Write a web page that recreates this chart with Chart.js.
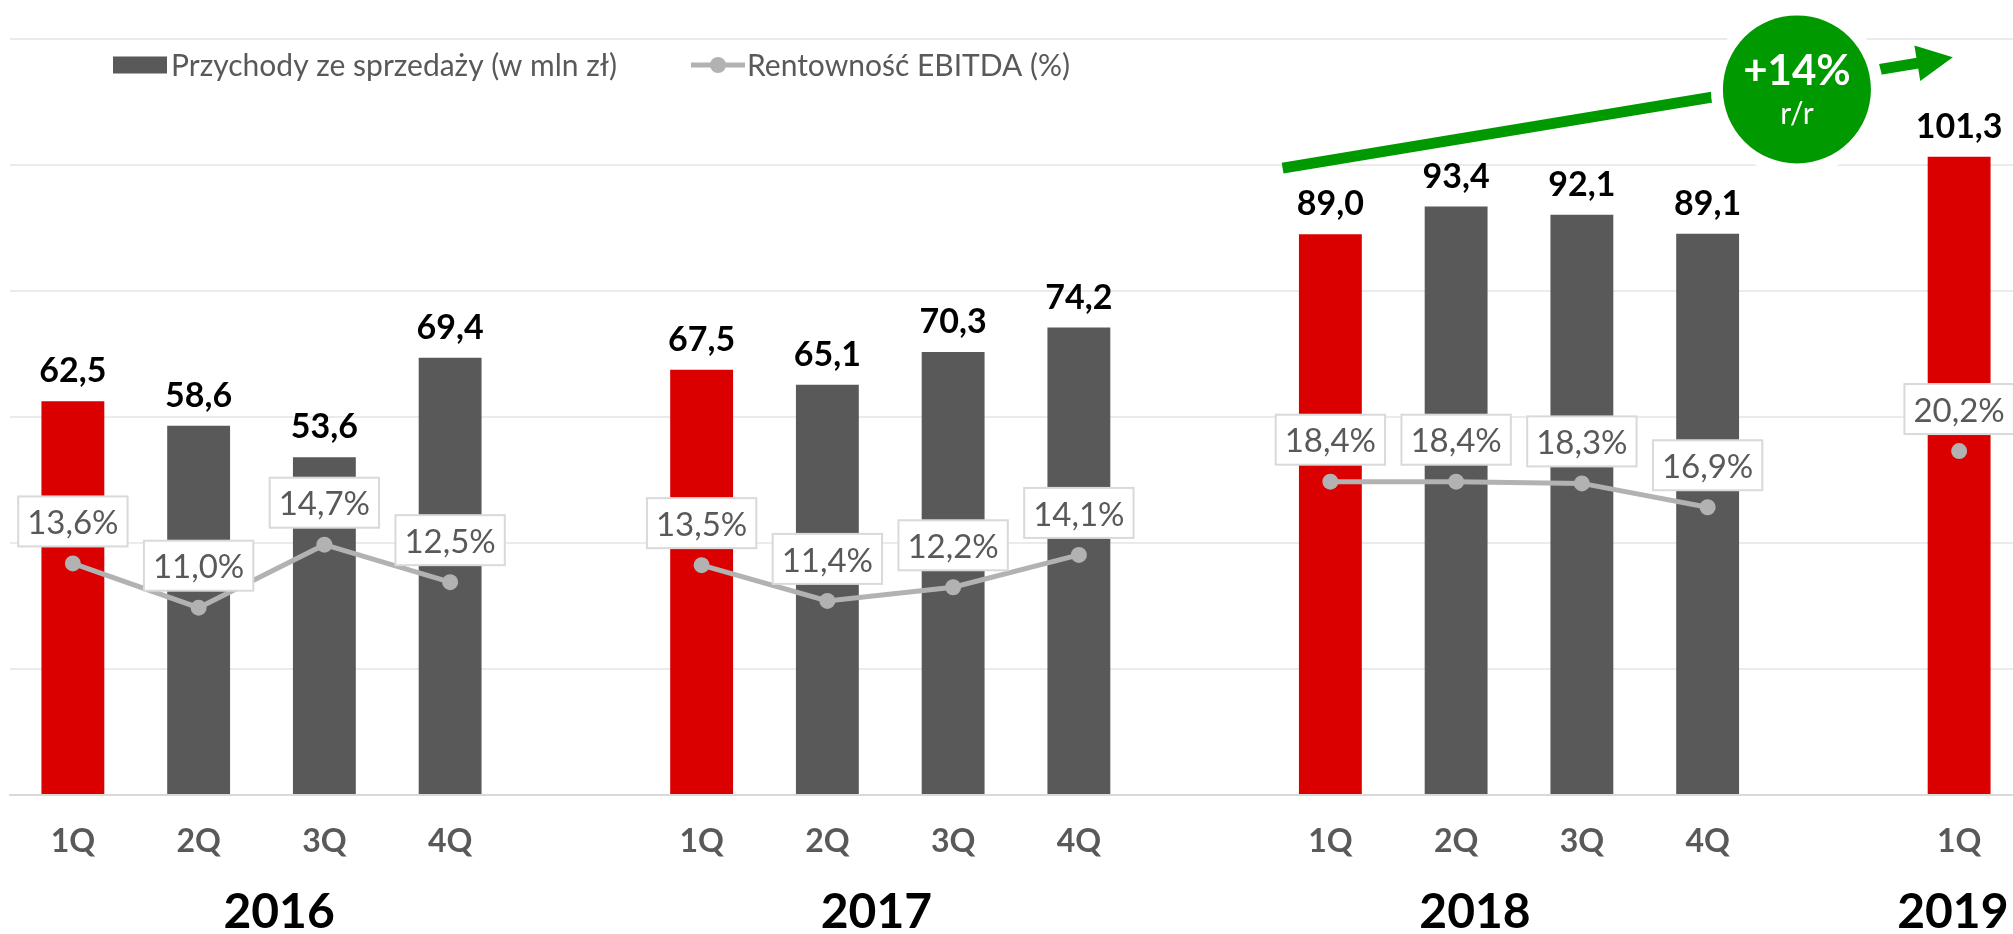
<!DOCTYPE html>
<html>
<head>
<meta charset="utf-8">
<script src="https://cdn.jsdelivr.net/npm/chart.js@4.4.1/dist/chart.umd.min.js"></script>
<style>
  html, body { margin: 0; padding: 0; background: #fff; overflow: hidden; }
  #wrap { width: 2030px; height: 934px; position: relative; }
</style>
</head>
<body>
<div id="wrap"><canvas id="revenueChart"></canvas></div>
<script>
// data
const quarters = ['1Q', '2Q', '3Q', '4Q', '', '1Q', '2Q', '3Q', '4Q', '', '1Q', '2Q', '3Q', '4Q', '', '1Q'];
const years = ['2016', '2017', '2018', '2019'];
const revenue = [62.5, 58.6, 53.6, 69.4, null, 67.5, 65.1, 70.3, 74.2, null, 89.0, 93.4, 92.1, 89.1, null, 101.3];
const ebitdaMargin = [13.6, 11.0, 14.7, 12.5, null, 13.5, 11.4, 12.2, 14.1, null, 18.4, 18.4, 18.3, 16.9, null, 20.2];

const RED = '#da0000';
const DARK = '#595959';
const LINE_GREY = '#b2b2b2';
const GREEN = '#009900';
const FONT = 'Lato';

const fmt = v => v.toFixed(1).replace('.', ',');

// bar values on top, margin values in boxes above the points
const valueLabels = {
  id: 'valueLabels',
  afterDatasetsDraw(chart) {
    const {ctx} = chart;
    ctx.save();
    ctx.textAlign = 'center';

    ctx.font = `bold 34px ${FONT}`;
    ctx.fillStyle = '#000';
    ctx.textBaseline = 'alphabetic';
    chart.getDatasetMeta(0).data.forEach((bar, i) => {
      if (revenue[i] == null) return;
      ctx.fillText(fmt(revenue[i]), bar.x, bar.y - 19);
    });

    ctx.font = `33px ${FONT}`;
    ctx.textBaseline = 'middle';
    chart.getDatasetMeta(1).data.forEach((pt, i) => {
      if (ebitdaMargin[i] == null) return;
      const txt = fmt(ebitdaMargin[i]) + '%';
      const w = ctx.measureText(txt).width + 18;
      const h = 50;
      const bx = pt.x - w / 2;
      const by = pt.y - 17 - h;
      ctx.fillStyle = '#fff';
      ctx.fillRect(bx, by, w, h);
      ctx.strokeStyle = '#d9d9d9';
      ctx.lineWidth = 2;
      ctx.strokeRect(bx, by, w, h);
      ctx.fillStyle = DARK;
      ctx.fillText(txt, pt.x, by + h / 2 + 2);
    });
    ctx.restore();
  }
};

// year names under the quarter ticks
const yearLabels = {
  id: 'yearLabels',
  afterDraw(chart, args, opts) {
    const {ctx, scales: {x}} = chart;
    ctx.save();
    ctx.font = `bold 48px ${FONT}`;
    ctx.fillStyle = '#000';
    ctx.textAlign = 'center';
    ctx.textBaseline = 'middle';
    years.forEach((yr, i) => {
      ctx.fillText(yr, x.getPixelForValue(opts.at[i]), opts.y);
    });
    ctx.restore();
  }
};

// legend sits inside the plot, left aligned
const topLegend = {
  id: 'topLegend',
  afterDraw(chart, args, opts) {
    const {ctx} = chart;
    const [barDs, lineDs] = chart.data.datasets;
    const y = opts.y;
    ctx.save();
    ctx.font = `${opts.size}px ${FONT}`;
    ctx.textAlign = 'left';
    ctx.textBaseline = 'middle';

    ctx.fillStyle = DARK;
    ctx.fillRect(opts.x, y - 8.5, 54, 17);
    ctx.fillText(barDs.label, opts.x + 58, y + 1);

    const lx = opts.x2;
    ctx.strokeStyle = LINE_GREY;
    ctx.lineWidth = 5;
    ctx.beginPath();
    ctx.moveTo(lx, y);
    ctx.lineTo(lx + 54, y);
    ctx.stroke();
    ctx.fillStyle = LINE_GREY;
    ctx.beginPath();
    ctx.arc(lx + 27, y, 8, 0, Math.PI * 2);
    ctx.fill();
    ctx.fillStyle = DARK;
    ctx.fillText(lineDs.label, lx + 56, y + 1);
    ctx.restore();
  }
};

// green growth arrow with the +14% badge
const growthArrow = {
  id: 'growthArrow',
  afterDraw(chart, args, o) {
    const {ctx, scales: {x, y}} = chart;
    const sx = x.getPixelForValue(o.from[0]), sy = y.getPixelForValue(o.from[1]);
    const tx = x.getPixelForValue(o.to[0]), ty = y.getPixelForValue(o.to[1]);
    const ang = Math.atan2(ty - sy, tx - sx);
    const head = 36, hw = 18;
    const bx = tx - head * Math.cos(ang), by = ty - head * Math.sin(ang);

    ctx.save();
    ctx.strokeStyle = GREEN;
    ctx.lineWidth = 11;
    ctx.beginPath();
    ctx.moveTo(sx, sy);
    ctx.lineTo(bx + 2 * Math.cos(ang), by + 2 * Math.sin(ang));
    ctx.stroke();

    ctx.fillStyle = GREEN;
    ctx.beginPath();
    ctx.moveTo(tx, ty);
    ctx.lineTo(bx + hw * Math.sin(ang), by - hw * Math.cos(ang));
    ctx.lineTo(bx - hw * Math.sin(ang), by + hw * Math.cos(ang));
    ctx.closePath();
    ctx.fill();

    const cx = x.getPixelForValue(o.badge[0]), cy = y.getPixelForValue(o.badge[1]);
    ctx.fillStyle = '#fff';
    ctx.beginPath();
    ctx.arc(cx, cy, o.radius + 12, 0, Math.PI * 2);
    ctx.fill();
    ctx.fillStyle = GREEN;
    ctx.beginPath();
    ctx.arc(cx, cy, o.radius, 0, Math.PI * 2);
    ctx.fill();

    ctx.fillStyle = '#fff';
    ctx.textAlign = 'center';
    ctx.textBaseline = 'middle';
    ctx.font = `bold 42px ${FONT}`;
    ctx.fillText(o.text, cx, cy - 18);
    ctx.font = `30px ${FONT}`;
    ctx.textBaseline = 'alphabetic';
    ctx.fillText(o.sub, cx, cy + 35);
    ctx.restore();
  }
};

const data = {
  labels: quarters,
  datasets: [
    {
      type: 'bar',
      label: 'Przychody ze sprzedaży (w mln zł)',
      data: revenue,
      backgroundColor: quarters.map(q => q === '1Q' ? RED : DARK),
      barPercentage: 0.5,
      categoryPercentage: 1,
      yAxisID: 'y',
      order: 2
    },
    {
      type: 'line',
      label: 'Rentowność EBITDA (%)',
      data: ebitdaMargin,
      borderColor: LINE_GREY,
      borderWidth: 5,
      pointRadius: 8,
      pointBorderWidth: 0,
      pointBackgroundColor: LINE_GREY,
      spanGaps: false,
      tension: 0,
      yAxisID: 'y1',
      order: 1
    }
  ]
};

const config = {
  type: 'bar',
  data,
  options: {
    responsive: true,
    maintainAspectRatio: false,
    animation: false,
    layout: { padding: { left: 10, right: 6, top: 39, bottom: 0 } },
    scales: {
      x: {
        offset: true,
        grid: { display: false, drawTicks: false },
        border: { color: '#d9d9d9', width: 2 },
        ticks: {
          color: DARK,
          font: { family: FONT, size: 32, weight: 'bold' },
          padding: 27,
          autoSkip: false,
          maxRotation: 0
        },
        afterFit(s) { s.height = 139; }
      },
      y: {
        min: 0,
        max: 120,
        ticks: { stepSize: 20, display: false },
        grid: { color: '#ebebeb', lineWidth: 2, drawTicks: false },
        border: { display: false },
        afterFit(s) { s.width = 0; }
      },
      y1: {
        display: false,
        min: 0,
        max: 44.4
      }
    },
    plugins: {
      legend: { display: false },
      tooltip: { enabled: false },
      yearLabels: { at: [1.64, 6.39, 11.15, 14.95], y: 913 },
      topLegend: { x: 113, x2: 691, y: 65, size: 30 },
      growthArrow: {
        from: [9.62, 99.5],
        to: [14.95, 117.1],
        badge: [13.71, 112.0],
        radius: 74,
        text: '+14%',
        sub: 'r/r'
      }
    }
  },
  plugins: [valueLabels, yearLabels, topLegend, growthArrow]
};

const revenueChart = new Chart(document.getElementById('revenueChart'), config);
</script>
</body>
</html>
